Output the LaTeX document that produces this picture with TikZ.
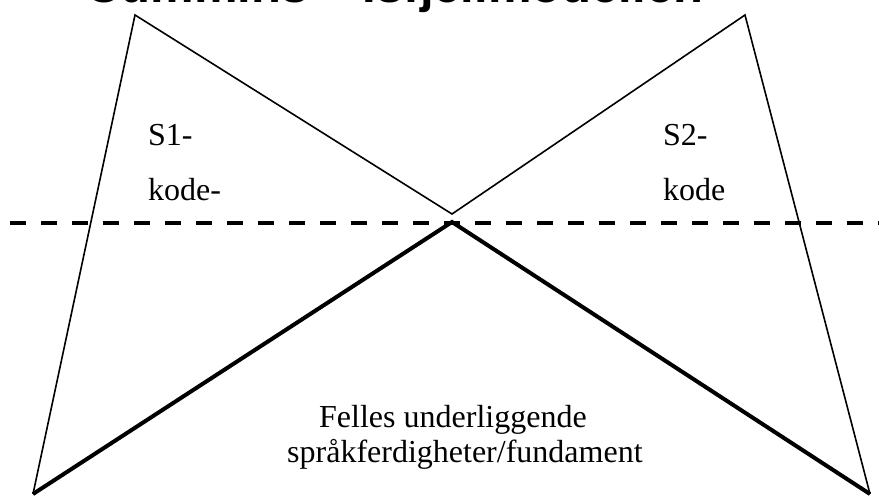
\documentclass[tikz,border=0pt]{standalone}
\usepackage{fontspec}
\setmainfont{Liberation Serif}
\newfontfamily\headfont{Liberation Sans}
\begin{document}
\begin{tikzpicture}[x=1pt,y=-1pt,
  thinline/.style={line width=1.6pt,line join=miter},
  thickline/.style={line width=4pt,line join=miter},
  waterline/.style={line width=3.8pt,dash pattern=on 16pt off 15pt},
  label/.style={inner sep=0pt,anchor=base west,font=\fontsize{32}{36}\selectfont}]
  \useasboundingbox (0,0) rectangle (879,498);
  \clip (0,0) rectangle (879,498);
  \fill[white] (0,0) rectangle (879,498);

  % heading, mostly above the page edge
  \node[inner sep=0pt,anchor=base west,font=\headfont\bfseries\fontsize{49}{54}\selectfont]
    (head) at (85,2) {Cummins – Isfjellmodellen};

  % vertices
  \coordinate (s1top) at (135,15);
  \coordinate (s1bot) at (33,494);
  \coordinate (s2top) at (745,15);
  \coordinate (s2bot) at (870,494);
  \coordinate (meet) at (452,214);
  \coordinate (cup) at (452,222);
  \coordinate (wl) at (10,223);
  \coordinate (wr) at (879,223);

  % the two surface peaks
  \draw[thinline] (s1bot) -- (s1top) -- (meet) -- (s2top) -- (s2bot);

  % waterline
  \draw[waterline] (wl) -- (wr);

  % common underlying base
  \draw[thickline] (s1bot) -- (cup) -- (s2bot);

  % labels
  \node[label] (s1a) at (148,145) {S1-};
  \node[label] (s1b) at (148,200) {kode-};
  \node[label] (s2a) at (663,145) {S2-};
  \node[label] (s2b) at (663,200) {kode};
  \node[label] (base1) at (319,427) {Felles underliggende};
  \node[label] (base2) at (287,462) {språkferdigheter/fundament};
\end{tikzpicture}
\end{document}
